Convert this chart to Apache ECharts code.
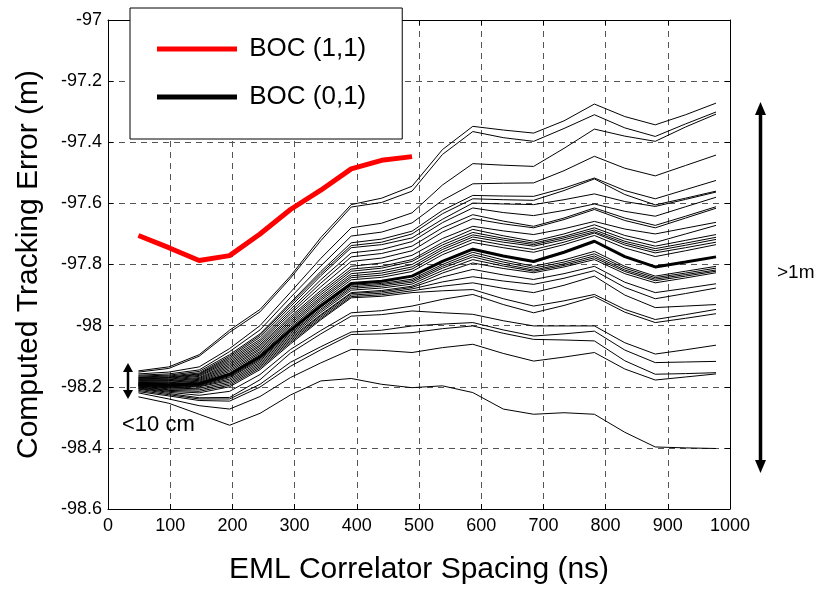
<!DOCTYPE html>
<html><head><meta charset="utf-8">
<script src="https://cdn.jsdelivr.net/npm/echarts@6/dist/echarts.min.js"></script>
<style>html,body{margin:0;padding:0;background:#fff}#c{width:827px;height:590px}</style>
</head><body><div id="c"></div>
<script>
// EML correlator spacing samples (ns)
const spacingNs = [48.9, 97.8, 146.6, 195.5, 244.4, 293.3, 342.1, 391.0, 439.9, 488.8, 537.7, 586.5, 635.4, 684.3, 733.1, 782.0, 830.9, 879.8, 928.6, 977.5];
// BOC(1,1) curve (first 10 spacings)
const boc11 = [-97.705, -97.745, -97.787, -97.771, -97.70, -97.62, -97.557, -97.487, -97.459, -97.447];
// BOC(0,1) family of curves
const b01 = [-98.148,-98.135,-98.095,-98.015,-97.947,-97.838,-97.712,-97.604,-97.583,-97.544,-97.424,-97.348,-97.36,-97.37,-97.33,-97.275,-97.316,-97.343,-97.31,-97.272];
const b02 = [-98.152,-98.14,-98.10,-98.022,-97.955,-97.845,-97.722,-97.612,-97.597,-97.56,-97.44,-97.365,-97.385,-97.397,-97.355,-97.31,-97.353,-97.381,-97.34,-97.301];
const b03 = [-98.158,-98.152,-98.135,-98.075,-98.0,-97.891,-97.78,-97.68,-97.665,-97.631,-97.54,-97.47,-97.475,-97.479,-97.42,-97.357,-97.38,-97.397,-97.35,-97.308];
const b04 = [-98.162,-98.158,-98.145,-98.085,-98.014,-97.908,-97.805,-97.707,-97.694,-97.664,-97.59,-97.536,-97.534,-97.533,-97.493,-97.446,-97.485,-97.51,-97.476,-97.442];
const b05 = [-98.165,-98.162,-98.15,-98.095,-98.027,-97.925,-97.823,-97.729,-97.717,-97.691,-97.623,-97.574,-97.576,-97.577,-97.55,-97.517,-97.558,-97.585,-97.555,-97.525];
const b06 = [-98.168,-98.165,-98.155,-98.10,-98.032,-97.93,-97.83,-97.738,-97.727,-97.70,-97.634,-97.585,-97.588,-97.59,-97.558,-97.52,-97.571,-97.605,-97.583,-97.56];
const b07 = [-98.17,-98.168,-98.158,-98.105,-98.038,-97.938,-97.837,-97.745,-97.735,-97.713,-97.652,-97.599,-97.602,-97.604,-97.588,-97.569,-97.594,-97.61,-97.587,-97.563];
const b08 = [-98.172,-98.17,-98.16,-98.11,-98.045,-97.947,-97.85,-97.762,-97.751,-97.725,-97.663,-97.615,-97.63,-97.64,-97.623,-97.602,-97.626,-97.642,-97.611,-97.58];
const b09 = [-98.174,-98.172,-98.163,-98.115,-98.051,-97.955,-97.861,-97.775,-97.764,-97.74,-97.68,-97.637,-97.658,-97.675,-97.648,-97.615,-97.648,-97.672,-97.642,-97.611];
const b10 = [-98.176,-98.175,-98.166,-98.12,-98.057,-97.962,-97.873,-97.79,-97.779,-97.755,-97.694,-97.65,-97.667,-97.68,-97.653,-97.62,-97.656,-97.68,-97.648,-97.616];
const b11 = [-98.178,-98.177,-98.17,-98.125,-98.063,-97.97,-97.885,-97.806,-97.795,-97.77,-97.715,-97.675,-97.69,-97.702,-97.683,-97.659,-97.684,-97.70,-97.681,-97.662];
const b12 = [-98.18,-98.18,-98.173,-98.13,-98.068,-97.976,-97.892,-97.815,-97.806,-97.784,-97.728,-97.685,-97.706,-97.724,-97.70,-97.67,-97.705,-97.728,-97.70,-97.672];
const b13 = [-98.182,-98.182,-98.176,-98.135,-98.074,-97.982,-97.899,-97.822,-97.812,-97.79,-97.736,-97.695,-97.714,-97.73,-97.708,-97.68,-97.716,-97.74,-97.721,-97.702];
const b14 = [-98.184,-98.185,-98.179,-98.14,-98.079,-97.988,-97.906,-97.83,-97.821,-97.80,-97.744,-97.703,-97.72,-97.735,-97.713,-97.687,-97.724,-97.748,-97.73,-97.711];
const b15 = [-98.186,-98.187,-98.182,-98.145,-98.085,-97.994,-97.912,-97.837,-97.828,-97.808,-97.751,-97.71,-97.727,-97.74,-97.719,-97.693,-97.73,-97.755,-97.737,-97.718];
const b16 = [-98.188,-98.19,-98.185,-98.15,-98.09,-98.0,-97.918,-97.843,-97.835,-97.815,-97.759,-97.718,-97.736,-97.751,-97.727,-97.697,-97.736,-97.762,-97.745,-97.727];
const b17 = [-98.19,-98.192,-98.188,-98.155,-98.095,-98.006,-97.925,-97.85,-97.842,-97.823,-97.768,-97.728,-97.745,-97.76,-97.735,-97.705,-97.746,-97.774,-97.755,-97.735];
const b18 = [-98.19,-98.194,-98.19,-98.16,-98.102,-98.015,-97.935,-97.862,-97.855,-97.838,-97.79,-97.75,-97.772,-97.79,-97.76,-97.724,-97.774,-97.808,-97.792,-97.775];
const b19 = [-98.192,-98.196,-98.192,-98.163,-98.106,-98.02,-97.94,-97.868,-97.862,-97.848,-97.8,-97.76,-97.785,-97.806,-97.785,-97.757,-97.806,-97.838,-97.822,-97.806];
const b20 = [-98.194,-98.198,-98.194,-98.167,-98.11,-98.025,-97.946,-97.873,-97.866,-97.853,-97.806,-97.768,-97.792,-97.812,-97.792,-97.765,-97.812,-97.843,-97.828,-97.812];
const b21 = [-98.195,-98.2,-98.196,-98.17,-98.114,-98.03,-97.951,-97.878,-97.871,-97.858,-97.812,-97.775,-97.799,-97.818,-97.798,-97.772,-97.818,-97.848,-97.833,-97.818];
const b22 = [-98.196,-98.202,-98.198,-98.175,-98.119,-98.035,-97.957,-97.884,-97.877,-97.864,-97.82,-97.784,-97.805,-97.822,-97.803,-97.778,-97.823,-97.853,-97.838,-97.822];
const b23 = [-98.197,-98.204,-98.2,-98.18,-98.124,-98.04,-97.964,-97.892,-97.885,-97.871,-97.828,-97.795,-97.813,-97.827,-97.808,-97.784,-97.83,-97.86,-97.844,-97.827];
const b24 = [-98.198,-98.207,-98.205,-98.185,-98.129,-98.045,-97.967,-97.895,-97.889,-97.875,-97.841,-97.816,-97.834,-97.849,-97.83,-97.806,-97.858,-97.892,-97.878,-97.863];
const b25 = [-98.2,-98.21,-98.21,-98.19,-98.134,-98.05,-97.972,-97.90,-97.894,-97.88,-97.857,-97.84,-97.854,-97.865,-97.845,-97.82,-97.875,-97.912,-97.895,-97.877];
const b26 = [-98.202,-98.212,-98.215,-98.195,-98.139,-98.055,-97.977,-97.905,-97.899,-97.886,-97.871,-97.86,-97.878,-97.892,-97.868,-97.838,-97.90,-97.941,-97.936,-97.931];
const b27 = [-98.204,-98.215,-98.22,-98.2,-98.144,-98.06,-97.981,-97.909,-97.904,-97.892,-97.886,-97.882,-97.912,-97.936,-97.919,-97.898,-97.947,-97.98,-97.964,-97.947];
const b28 = [-98.206,-98.218,-98.228,-98.215,-98.16,-98.078,-98.016,-97.958,-97.951,-97.936,-97.914,-97.898,-97.931,-97.958,-97.934,-97.905,-97.956,-97.99,-97.976,-97.961];
const b29 = [-98.208,-98.222,-98.236,-98.235,-98.177,-98.09,-98.027,-97.969,-97.964,-97.952,-97.958,-97.963,-97.984,-98.001,-98.001,-98.001,-98.056,-98.093,-98.079,-98.064];
const b30 = [-98.212,-98.226,-98.24,-98.24,-98.192,-98.12,-98.069,-98.021,-98.015,-98.001,-97.995,-97.99,-98.014,-98.034,-98.027,-98.018,-98.08,-98.121,-98.119,-98.117];
const b31 = [-98.216,-98.23,-98.245,-98.247,-98.201,-98.133,-98.079,-98.029,-98.027,-98.023,-98.01,-98.001,-98.025,-98.045,-98.047,-98.05,-98.115,-98.159,-98.157,-98.154];
const b32 = [-98.22,-98.24,-98.262,-98.273,-98.232,-98.17,-98.122,-98.078,-98.081,-98.088,-98.072,-98.061,-98.091,-98.116,-98.103,-98.088,-98.142,-98.178,-98.168,-98.158];
const b33 = [-98.233,-98.254,-98.29,-98.326,-98.287,-98.227,-98.181,-98.173,-98.192,-98.203,-98.197,-98.219,-98.273,-98.29,-98.285,-98.29,-98.349,-98.397,-98.4,-98.402];
const boc01Lines = [b01,b02,b03,b04,b05,b06,b07,b08,b09,b10,b11,b12,b13,b14,b15,b16,b17,b18,b19,b20,b21,b22,b23,b24,b25,b26,b27,b28,b29,b30,b31,b32,b33];
const thickLine = b18;

const FONT = 'Liberation Sans, Arial, sans-serif';
const chart = echarts.init(document.getElementById('c'), null, {renderer: 'canvas'});

const pairs = ys => ys.map((y, i) => [spacingNs[i], y]);
const series = [];
// thick representative line first (legend icon), then the rest
series.push({name: 'BOC (0,1)', type: 'line', data: pairs(thickLine), symbol: 'none', silent: true,
  lineStyle: {color: '#000', width: 3}, itemStyle: {color: '#000'}, z: 3});
boc01Lines.forEach(ys => {
  if (ys === thickLine) return;
  series.push({name: 'BOC (0,1)', type: 'line', data: pairs(ys), symbol: 'none', silent: true,
    lineStyle: {color: '#000', width: 1}, itemStyle: {color: '#000'}, z: 2});
});
series.push({name: 'BOC (1,1)', type: 'line', data: pairs(boc11), symbol: 'none', silent: true,
  lineStyle: {color: '#ff0000', width: 5}, itemStyle: {color: '#ff0000'}, z: 4});

const gridDash = {color: '#555', width: 1, type: [6, 5]};
const option = {
  animation: false,
  backgroundColor: '#fff',
  textStyle: {fontFamily: FONT},
  grid: {left: 108, right: 97, top: 20, bottom: 80, containLabel: false},
  legend: {
    left: 130, top: 8, orient: 'vertical',
    itemWidth: 80, itemHeight: 5, itemGap: 22,
    padding: [28, 36, 29, 27],
    backgroundColor: '#fff', borderColor: '#000', borderWidth: 1, borderRadius: 0,
    textStyle: {fontSize: 26, color: '#000', fontFamily: FONT},
    formatter: n => ' ' + n,
    selectedMode: false,
    data: [
      {name: 'BOC (1,1)', icon: 'rect', itemStyle: {color: '#ff0000'}},
      {name: 'BOC (0,1)', icon: 'rect', itemStyle: {color: '#000'}}
    ],
    z: 10
  },
  xAxis: [{
    type: 'value', min: 0, max: 1000, interval: 100, position: 'bottom',
    axisLine: {show: true, onZero: false, lineStyle: {color: '#000', width: 1}},
    axisTick: {show: true, inside: true, length: 5, lineStyle: {color: '#000'}},
    axisLabel: {color: '#000', fontSize: 18, margin: 8, fontFamily: FONT, formatter: v => String(v)},
    splitLine: {show: true, lineStyle: gridDash},
    name: 'EML Correlator Spacing (ns)', nameLocation: 'middle', nameGap: 46,
    nameTextStyle: {fontSize: 30, color: '#000', fontFamily: FONT}
  }, {
    type: 'value', min: 0, max: 1000, interval: 100, position: 'top',
    axisLine: {show: true, onZero: false, lineStyle: {color: '#000', width: 1}},
    axisTick: {show: true, inside: true, length: 5, lineStyle: {color: '#000'}},
    axisLabel: {show: false}, splitLine: {show: false}
  }],
  yAxis: [{
    type: 'value', min: -98.6, max: -97, interval: 0.2, position: 'left',
    axisLine: {show: true, onZero: false, lineStyle: {color: '#000', width: 1}},
    axisTick: {show: true, inside: true, length: 5, lineStyle: {color: '#000'}},
    axisLabel: {color: '#000', fontSize: 18, margin: 6, fontFamily: FONT,
      formatter: v => String(Number(v.toFixed(1)))},
    splitLine: {show: true, lineStyle: gridDash},
    name: 'Computed Tracking Error (m)', nameLocation: 'middle', nameGap: 64, nameRotate: 90,
    nameTextStyle: {fontSize: 30, color: '#000', fontFamily: FONT}
  }, {
    type: 'value', min: -98.6, max: -97, interval: 0.2, position: 'right',
    axisLine: {show: true, onZero: false, lineStyle: {color: '#000', width: 1}},
    axisTick: {show: true, inside: true, length: 5, lineStyle: {color: '#000'}},
    axisLabel: {show: false}, splitLine: {show: false}
  }],
  series: series,
  graphic: [
    // small double arrow (<10 cm)
    {type: 'line', shape: {x1: 128, y1: 369, x2: 128, y2: 393}, style: {stroke: '#000', lineWidth: 2.5}, z: 20},
    {type: 'polygon', shape: {points: [[128, 363], [123, 372], [133, 372]]}, style: {fill: '#000'}, z: 20},
    {type: 'polygon', shape: {points: [[128, 399], [123, 390], [133, 390]]}, style: {fill: '#000'}, z: 20},
    {type: 'text', left: 122, top: 414, style: {text: '<10 cm', fontSize: 22, fill: '#000', fontFamily: FONT}, z: 20},
    // big double arrow (>1m)
    {type: 'line', shape: {x1: 760.5, y1: 110, x2: 760.5, y2: 465}, style: {stroke: '#000', lineWidth: 3.5}, z: 20},
    {type: 'polygon', shape: {points: [[760.5, 102], [755, 115], [766, 115]]}, style: {fill: '#000'}, z: 20},
    {type: 'polygon', shape: {points: [[760.5, 473], [755, 460], [766, 460]]}, style: {fill: '#000'}, z: 20},
    {type: 'text', left: 777, top: 263, style: {text: '>1m', fontSize: 19, fill: '#000', fontFamily: FONT}, z: 20}
  ]
};
chart.setOption(option);
</script>
</body></html>
